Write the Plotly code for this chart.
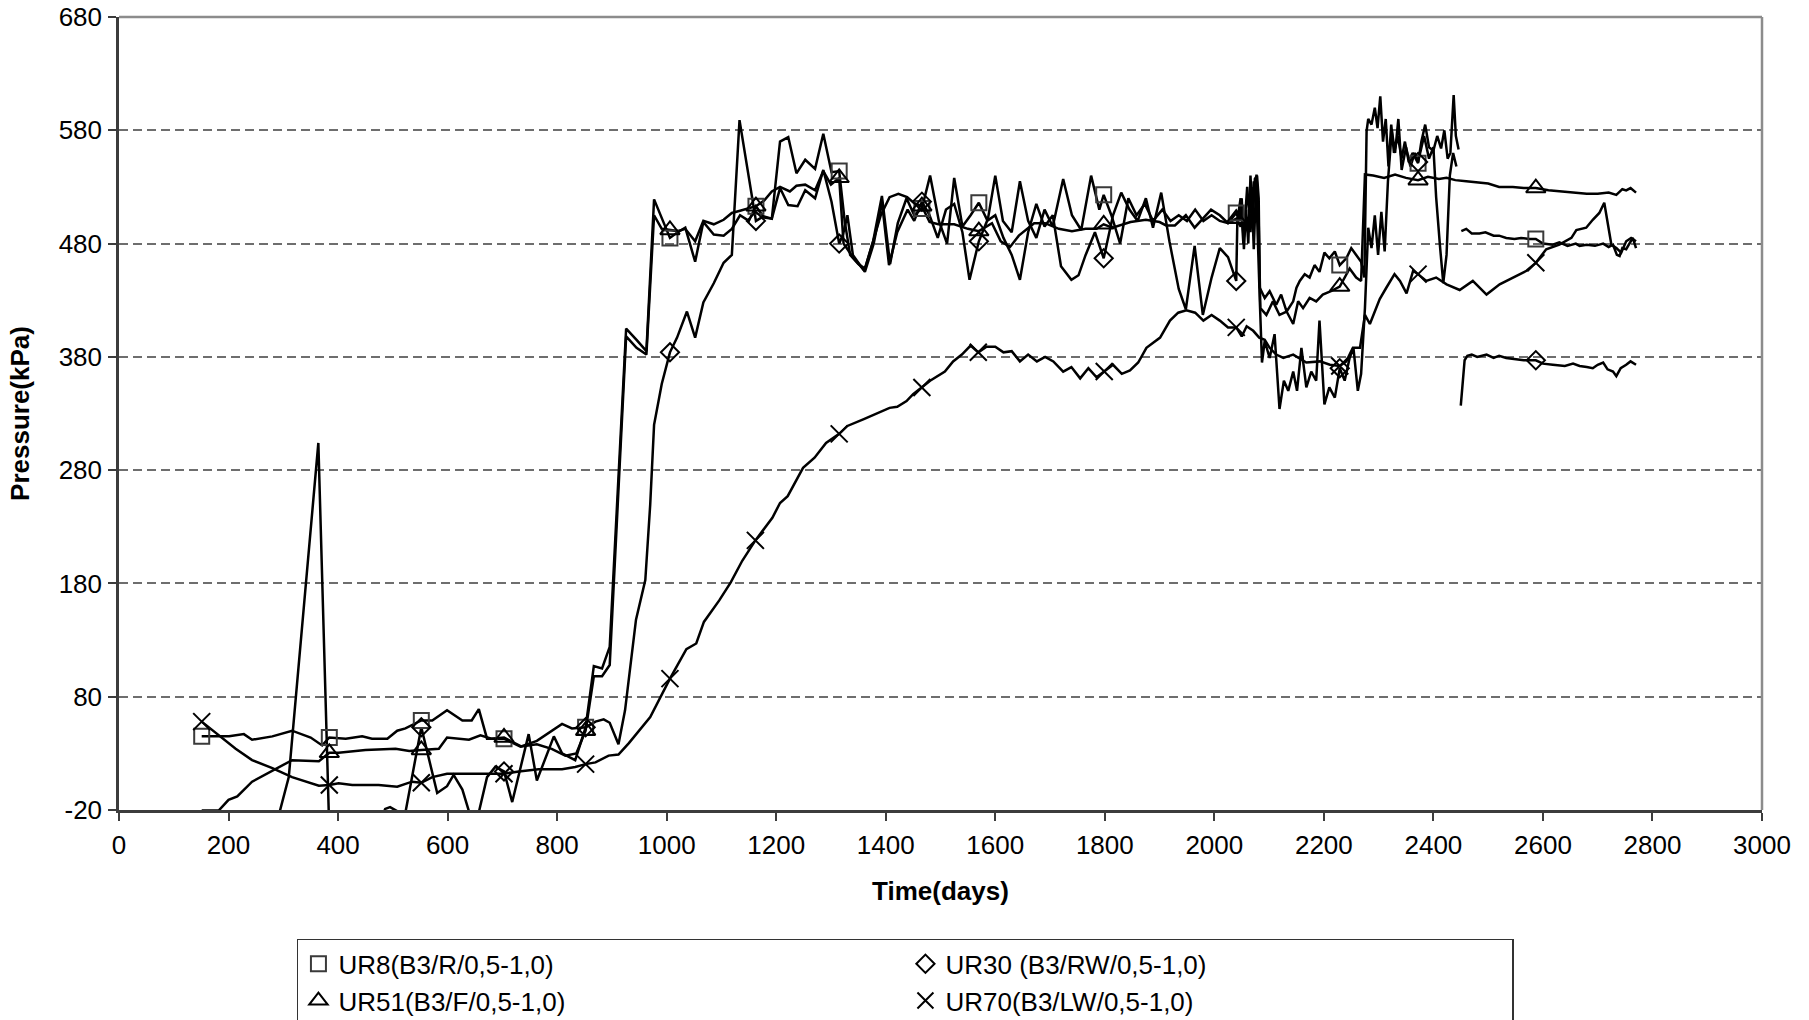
import plotly.graph_objects as go

# ------------------------------------------------------------------ data
ur8_days = [151, 182, 201, 228, 243, 280, 316, 350, 371, 384, 414, 444, 462, 490, 508, 523, 538, 552,
            572, 599, 627, 644, 657, 672, 703, 733, 763, 782, 809, 827, 852, 867, 882, 896, 926, 945,
            963, 977, 991, 1006, 1020, 1034, 1052, 1067, 1086, 1104, 1119, 1134, 1150, 1163, 1178,
            1192, 1207, 1222, 1237, 1253, 1271, 1286, 1301, 1315, 1325, 1335, 1350, 1362, 1377, 1393,
            1408, 1422, 1438, 1452, 1466, 1481, 1497, 1512, 1525, 1540, 1555, 1570, 1586, 1600, 1614,
            1630, 1645, 1660, 1675, 1690, 1705, 1724, 1740, 1757, 1775, 1790, 1798, 1812, 1828, 1843,
            1858, 1873, 1888, 1905, 1920, 1935, 1950, 1965, 1980, 1995, 2010, 2025, 2040, 2046, 2050,
            2054, 2058, 2062, 2066, 2070, 2074, 2078, 2081, 2083, 2092, 2101, 2113, 2122, 2132, 2144,
            2150, 2156, 2165, 2174, 2183, 2192, 2201, 2210, 2220, 2229, 2241, 2250, 2259, 2268, 2274,
            2278, 2281, 2287, 2293, 2298, 2303, 2308, 2313, 2318, 2323, 2328, 2335, 2342, 2348, 2355,
            2362, 2372, 2378, 2385, 2392, 2400, 2407, 2414, 2420, 2426, 2431, 2437, 2441, 2446, None,
            2451, 2460, 2470, 2484, 2495, 2510, 2520, 2533, 2548, 2560, 2575, 2587, 2600, 2618, 2630,
            2645, 2660, 2667, 2680, 2695, 2710, 2720, 2728, 2735, 2740, 2745, 2752, 2758, 2764, 2770]
ur8_kpa = [45, 45, 45, 47, 42, 45, 50, 44, 37, 44, 43, 45, 43, 43, 50, 52, 56, 59,
           59, 68, 59, 59, 69, 43, 43, 36, 41, 47, 56, 52, 53, 107, 105, 124, 405, 395,
           385, 519, 502, 485, 490, 494, 464, 499, 488, 487, 493, 505, 500, 513, 503,
           502, 570, 574, 542, 554, 546, 577, 543, 544, 500, 470, 462, 458, 482, 522,
           462, 498, 520, 505, 511, 540, 500, 480, 538, 495, 505, 516, 500, 540, 500,
           490, 535, 500, 485, 510, 495, 537, 505, 492, 540, 510, 523, 505, 480, 520,
           505, 515, 500, 510, 500, 505, 500, 510, 500, 505, 500, 498, 507, 500, 520,
           475, 510, 480, 540, 500, 537, 540, 520, 441, 432, 438, 426, 435, 420, 429,
           441, 447, 453, 450, 461, 455, 472, 467, 473, 461, 467, 476, 470, 464, 450,
           579, 590, 585, 600, 582, 610, 570, 590, 548, 585, 560, 575, 555, 570, 552,
           560, 551, 570, 585, 565, 562, 575, 564, 580, 555, 560, 611, 575, 563, None,
           491, 493, 489, 489, 490, 487, 487, 485, 484, 485, 484, 484, 480, 479, 481,
           478, 480, 478, 479, 478, 480, 477, 479, 470, 469, 476, 475, 480, 485, 476]

ur30_days = [150, 291, 310, 335, 364, 383, 470, 486, 495, 508, 520, 535, 552, 581, 599, 611, 627,
             642, 657, 672, 687, 703, 718, 748, 763, 794, 809, 833, 852, 870, 885, 896, 912, 924,
             944, 961, 970, 977, 991, 1006, 1019, 1037, 1052, 1067, 1086, 1104, 1119, 1133, 1146,
             1157, 1163, 1177, 1192, 1207, 1222, 1239, 1253, 1271, 1286, 1301, 1315, 1322, 1330,
             1340, 1362, 1378, 1393, 1406, 1421, 1440, 1452, 1466, 1480, 1495, 1510, 1525, 1540,
             1553, 1570, 1585, 1600, 1615, 1630, 1645, 1660, 1675, 1690, 1705, 1720, 1739, 1752,
             1765, 1782, 1798, 1815, 1830, 1845, 1860, 1875, 1888, 1903, 1918, 1935, 1948, 1964,
             1979, 1995, 2010, 2025, 2040, 2042, 2048, 2053, 2060, 2066, 2072, 2078, 2083, 2087,
             2092, 2101, 2110, 2119, 2127, 2135, 2144, 2151, 2159, 2168, 2177, 2186, 2192, 2201,
             2210, 2220, 2229, 2238, 2247, 2254, 2262, 2268, 2275, 2281, 2287, 2293, 2299, 2305,
             2311, 2317, 2324, 2330, 2336, 2342, 2350, 2358, 2366, 2372, 2383, 2392, 2400, 2405,
             2412, 2418, 2424, 2430, 2436, 2442, None, 2450, 2455, 2457, 2462, 2470, 2480, 2497,
             2510, 2520, 2533, 2550, 2565, 2587, 2600, 2618, 2640, 2655, 2667, 2680, 2691, 2700,
             2710, 2718, 2728, 2734, 2742, 2752, 2760, 2770]
ur30_kpa = [-60, -26, 9, 147, 304, -22, -40, -19, -17.5, -21, -30, 9, 53, -5, 1, 11, -2,
            -26, -22, 9, 18, 14, -13, 47, 6, 45, 30, 24, 53, 58, 60, 57, 38, 68,
            148, 183, 250, 320, 356, 384, 397, 420, 397, 428, 445, 463, 470, 589, 551,
            517, 500, 504, 502, 529, 514, 513, 527, 520, 545, 517, 480, 488, 505,
            470, 455, 480, 517, 461, 490, 510, 500, 517, 505, 485, 510, 515, 490,
            448, 482, 500, 505, 485, 470, 448, 490, 515, 495, 505, 460, 448, 452,
            470, 490, 467, 505, 525, 510, 500, 520, 494, 525, 482, 440, 422, 478,
            417, 450, 476, 468, 447, 500, 520, 480, 530, 490, 535, 505, 430, 375,
            394, 379, 400, 334, 359, 350, 367, 350, 388, 353, 367, 359, 412, 338,
            353, 344, 370, 359, 379, 388, 350, 365, 423, 494, 476, 505, 470, 508,
            473, 535, 580, 560, 590, 545, 565, 548, 560, 552, 575, 555, 565, 521,
            478, 445, 470, 540, 560, 548, None, 337, 365, 377, 381, 382, 380, 382,
            379, 381, 379, 378, 377, 377, 374, 373, 372, 374, 372, 371, 370, 373,
            375, 369, 367, 363, 370, 373, 376, 373]

ur51_days = [151, 182, 200, 216, 243, 280, 316, 365, 384, 401, 450, 505, 530, 552, 584, 599, 639,
             660, 680, 703, 735, 763, 790, 815, 835, 852, 867, 882, 896, 926, 945, 963, 977, 991,
             1006, 1020, 1034, 1052, 1067, 1086, 1104, 1119, 1134, 1150, 1163, 1178, 1192, 1207,
             1225, 1237, 1253, 1271, 1286, 1300, 1315, 1323, 1340, 1361, 1375, 1391, 1407, 1423,
             1439, 1451, 1466, 1480, 1496, 1525, 1550, 1570, 1594, 1610, 1627, 1643, 1671, 1691,
             1716, 1740, 1765, 1785, 1798, 1814, 1847, 1875, 1900, 1912, 1928, 1948, 1964, 1994,
             2010, 2025, 2040, 2048, 2055, 2062, 2068, 2072, 2077, 2081, 2084, 2095, 2107, 2119,
             2132, 2144, 2153, 2162, 2174, 2186, 2198, 2213, 2229, 2238, 2247, 2259, 2268, 2275,
             2290, 2310, 2330, 2350, 2372, 2390, 2410, 2424, 2440, 2460, 2480, 2500, 2520, 2545,
             2565, 2587, 2610, 2636, 2660, 2680, 2700, 2720, 2734, 2745, 2752, 2760, 2770]
ur51_kpa = [-20.5, -20.5, -11, -8, 5, 15, 24, 23, 30.5, 30.5, 33, 34, 32, 33, 34, 44, 42,
            46, 43, 44, 36, 38, 34, 28, 30, 50, 98, 98, 108, 398, 388, 382, 505, 493,
            492, 491, 493, 482, 500, 497, 501, 507, 509, 511, 513, 518, 526, 530,
            526, 531, 532, 527, 544, 532, 538, 480, 468, 456, 478, 505, 521, 524,
            521, 516, 513, 499, 497, 497, 493, 491, 498, 482, 477, 487, 498, 498,
            493, 491, 493, 493, 497, 494, 499, 501, 499, 496, 496, 505, 494, 510,
            505, 498, 502, 495, 505, 490, 530, 475, 541, 500, 423, 417, 429, 417,
            420, 409, 429, 423, 432, 429, 435, 438, 442, 450, 458, 450, 447, 541,
            540, 538, 541, 538, 536, 539, 537, 538, 536, 535, 534, 533, 530, 530,
            529, 529, 527, 526, 525, 524, 524, 525, 523, 528, 527, 529, 525]

ur70_days = [151, 182, 213, 243, 280, 316, 365, 384, 401, 426, 474, 508, 535, 552, 572, 599, 639,
             675, 703, 730, 766, 809, 833, 852, 870, 894, 912, 931, 949, 970, 1006, 1036, 1054,
             1068, 1096, 1117, 1138, 1162, 1193, 1207, 1221, 1249, 1270, 1291, 1315, 1330, 1360,
             1389, 1407, 1421, 1438, 1450, 1466, 1481, 1508, 1523, 1539, 1555, 1569, 1584, 1600,
             1615, 1630, 1645, 1660, 1676, 1691, 1706, 1724, 1739, 1755, 1770, 1785, 1799, 1815,
             1831, 1846, 1861, 1876, 1901, 1919, 1934, 1949, 1965, 1980, 1995, 2010, 2025, 2040,
             2050, 2059, 2071, 2082, 2092, 2101, 2113, 2126, 2144, 2168, 2193, 2211, 2229, 2241,
             2253, 2266, 2275, 2284, 2293, 2302, 2314, 2329, 2339, 2351, 2363, 2372, 2387, 2405,
             2424, 2448, 2472, 2497, 2521, 2545, 2570, 2587, 2606, 2630, 2652, 2661, 2679, 2691,
             2703, 2712, 2719, 2725, 2734, 2743, 2752, 2761, 2770]
ur70_kpa = [58, 46, 34, 24, 17, 9, 1.5, 2, 3.5, 2, 2, 0.5, 5, 4, 9, 12, 12,
            12, 12, 14, 16, 16, 18, 20.5, 22, 28, 29, 39, 50, 62, 96, 122, 127,
            146, 165, 181, 200, 218, 238, 251, 257, 282, 291, 304, 312, 319, 325,
            331, 335, 336, 341, 347, 353, 359, 367, 376, 382, 390, 384, 389, 389,
            384, 385, 376, 382, 376, 380, 376, 367, 371, 361, 370, 362, 367, 373,
            365, 368, 375, 388, 397, 412, 419, 421, 419, 412, 417, 412, 406, 406,
            398, 407, 403, 397, 395, 388, 382, 379, 382, 375, 376, 373, 372, 376,
            388, 388, 417, 409, 420, 431, 441, 453, 447, 436, 456, 453, 447, 450,
            444, 439, 447, 435, 444, 450, 456, 463, 475, 479, 485, 492, 494, 501,
            507, 516, 497, 479, 476, 472, 482, 485, 482]

marker_days = [151, 384, 552, 703, 852, 1006, 1163, 1315, 1466, 1570, 1798, 2040, 2229, 2372, 2587]

series_names = ["UR8(B3/R/0,5-1,0)", "UR30 (B3/RW/0,5-1,0)",
                "UR51(B3/F/0,5-1,0)", "UR70(B3/LW/0,5-1,0)"]

x_tick_values = list(range(0, 3001, 200))
y_tick_values = [-20, 80, 180, 280, 380, 480, 580, 680]
y_min, y_max = -20, 680

# ------------------------------------------------------------------ helpers
def marker_points(days, vals):
    mx, my = [], []
    for d in marker_days:
        best = None
        for xd, yv in zip(days, vals):
            if xd is None:
                continue
            if abs(xd - d) <= 3 and (best is None or abs(xd - d) < abs(best[0] - d)):
                best = (xd, yv)
        if best is not None and y_min <= best[1] <= y_max:
            mx.append(best[0])
            my.append(best[1])
    return mx, my


FONT = "Liberation Sans, Arial, Helvetica, sans-serif"

styles = [
    dict(symbol="square-open", size=15, color="#3a3a3a"),
    dict(symbol="diamond-open", size=14, color="black"),
    dict(symbol="triangle-up-open", size=17, color="black"),
    dict(symbol="x-thin-open", size=17, color="black"),
]
data = [(ur8_days, ur8_kpa), (ur30_days, ur30_kpa), (ur51_days, ur51_kpa), (ur70_days, ur70_kpa)]

fig = go.Figure()
for (days, vals), name, st in zip(data, series_names, styles):
    fig.add_trace(go.Scatter(
        x=days, y=vals, mode="lines", showlegend=False, connectgaps=False,
        line=dict(color="black", width=2.5), hoverinfo="skip"))
for (days, vals), name, st in zip(data, series_names, styles):
    mx, my = marker_points(days, vals)
    fig.add_trace(go.Scatter(
        x=mx, y=my, mode="markers", name=name, showlegend=True,
        marker=dict(symbol=st["symbol"], size=st["size"], color=st["color"],
                    line=dict(width=2, color=st["color"]))))

fig.update_layout(
    width=1809, height=1020,
    margin=dict(l=119, r=47, t=17, b=210, autoexpand=False),
    paper_bgcolor="white", plot_bgcolor="white",
    font=dict(family=FONT, size=26, color="black"),
    showlegend=True,
    legend=dict(
        orientation="h", x=0.1083, y=-0.1625, xanchor="left", yanchor="top",
        entrywidth=562, bordercolor="#333333", borderwidth=1.5, bgcolor="white",
        font=dict(family=FONT, size=26, color="black"), itemsizing="trace"),
    xaxis=dict(
        range=[0, 3000], tickmode="array", tickvals=x_tick_values,
        ticktext=[str(v) for v in x_tick_values],
        showgrid=False, zeroline=False, showline=True, linecolor="#3c3c3c", linewidth=2.5,
        ticks="outside", ticklen=8, tickwidth=1.5, tickcolor="#3c3c3c",
        ticklabelstandoff=2,
        title=dict(text="<b>Time(days)</b>", font=dict(family=FONT, size=26), standoff=23)),
    yaxis=dict(
        range=[y_min, y_max], tickmode="array", tickvals=y_tick_values,
        ticktext=[str(v) for v in y_tick_values],
        showgrid=True, gridcolor="#6e6e6e", gridwidth=1.5, griddash="9px,5px",
        zeroline=False, showline=True, linecolor="#3c3c3c", linewidth=2.5,
        ticks="outside", ticklen=8, tickwidth=1.5, tickcolor="#3c3c3c",
        ticklabelstandoff=1,
        title=dict(text="<b>Pressure(kPa)</b>", font=dict(family=FONT, size=26), standoff=22)),
    shapes=[
        dict(type="line", xref="paper", yref="paper", x0=0, x1=1, y0=1, y1=1,
             line=dict(color="#8c8c8c", width=2.5), layer="above"),
        dict(type="line", xref="paper", yref="paper", x0=1, x1=1, y0=0, y1=1,
             line=dict(color="#8c8c8c", width=2.5), layer="above"),
    ],
)

fig.write_html("out.html", config={"displayModeBar": False},
               post_script="document.body.style.margin='0';")
